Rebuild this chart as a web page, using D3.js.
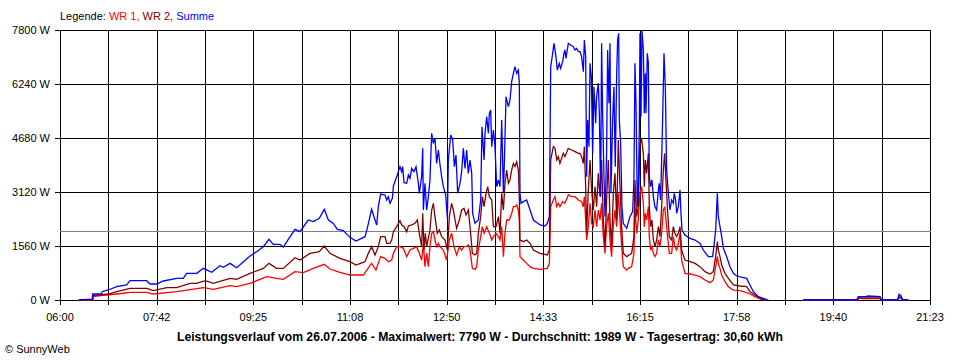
<!DOCTYPE html>
<html>
<head>
<meta charset="utf-8">
<script src="https://cdn.jsdelivr.net/npm/d3@7"></script>
<style>
  html, body { margin: 0; padding: 0; background: #fff; }
  svg { display: block; }
  text { font-family: "Liberation Sans", Arial, sans-serif; font-size: 11px; fill: #000; }
</style>
</head>
<body>
<svg id="chart" width="960" height="360"></svg>
<script>
// ---- data (time in minutes since midnight, power in W) ----
const yTickValues = [0, 1560, 3120, 4680, 6240, 7800];
const yTickLabels = ["0 W", "1560 W", "3120 W", "4680 W", "6240 W", "7800 W"];
const xTickLabels = ["06:00", "07:42", "09:25", "11:08", "12:50", "14:33", "16:15", "17:58", "19:40", "21:23"];
const timeStart = 360, timeEnd = 1283;
const average = 1989;
const legendItems = ["WR 1", "WR 2", "Summe"];
const titleText = "Leistungsverlauf vom 26.07.2006 - Maximalwert: 7790 W - Durchschnitt: 1989 W - Tagesertrag: 30,60 kWh";

const summe = [[380,0],[394.3,28],[394.7,173],[404.2,173],[404.6,240],[411.3,289],[420.1,385],[430.7,433],[434.3,558],[452,558],[455.5,462],[462.6,462],[469.6,549],[483.8,626],[490.8,626],[494.4,770],[505,770],[512.1,915],[520.9,799],[529.7,991],[533.3,943],[540.4,1059],[547.4,934],[561.6,1271],[568.6,1396],[575.7,1540],[581.7,1752],[586.3,1608],[593.4,1608],[596.9,1531],[602.2,1752],[609.3,2041],[614.6,1974],[623.4,2311],[628.8,2263],[635.1,2359],[640.4,2619],[644.7,2311],[650,2214],[654.2,2041],[660.6,2003],[667.6,1810],[674,1704],[683.6,1829],[686,2070],[690.6,2619],[694.2,2311],[696,2167],[697.7,2696],[700.2,3062],[704.8,3033],[706.6,2889],[708.3,2985],[710.1,2793],[712.6,2937],[713.7,3293],[717.2,3563],[720.7,3852],[722.5,3708],[723.5,3852],[725,3390],[727.8,3371],[729.6,3611],[731.3,3515],[733.1,3804],[735.6,3708],[737.7,3852],[740.2,3371],[741.2,3082],[743.7,3563],[744.8,4382],[745.5,2600],[747.2,3371],[749,2600],[750.8,2985],[752.5,3467],[754.3,4815],[756.1,4526],[757.8,4671],[759.6,3948],[761.4,4334],[763.2,3900],[764.9,3563],[766.7,3274],[769.2,3033],[771,2359],[772,4045],[774.5,4767],[776.6,4622],[778.4,3852],[780.1,4189],[781.9,3082],[784.4,3371],[786.1,3708],[787.9,4382],[789.7,3804],[791.4,4334],[793.2,3659],[795,4045],[796.8,3659],[797.8,2504],[800.3,2215],[803.8,2311],[806.3,2889],[807.7,5007],[809.9,4045],[810.9,4815],[812.7,5296],[814.5,4815],[815.5,5393],[816.9,5489],[818,4430],[819.8,4911],[821.5,4430],[823.3,3274],[825.1,3467],[826.8,3274],[828.6,5200],[830.4,3082],[831.4,3948],[833.2,5874],[835.7,5585],[837.4,5778],[839.2,6307],[841,6548],[842.7,6741],[844.5,6548],[846.3,6644],[847.3,6259],[848,3082],[849.1,2793],[851.6,2841],[855.1,2889],[858.7,2600],[862.2,2311],[869.3,2167],[874.6,2137],[877,2215],[879.2,2407],[880.6,6741],[882.7,7126],[884.1,7415],[886.2,7030],[887.6,6644],[889.7,6837],[891.1,6693],[893.3,6885],[894.7,7126],[895.7,7222],[896.8,6982],[899.3,7415],[901.8,7367],[904.6,7319],[906.4,7222],[908.1,7270],[909.9,7174],[911.7,7174],[913.4,7030],[915.2,6596],[916.3,7511],[917.7,7030],[918.7,3563],[919.8,5200],[921.2,4430],[922.3,6837],[923.7,6452],[925.1,4237],[926.5,6163],[928.3,5104],[929.3,5874],[931.1,6259],[932.2,5393],[933.6,2985],[934.6,7415],[935.7,5393],[937.1,3563],[938.2,2407],[939.9,4237],[941,7222],[942.4,5681],[943.5,7415],[944.5,3082],[946.3,5200],[947.7,6163],[949.1,3852],[950.6,6548],[951.6,7511],[952.7,7704],[953.4,5200],[954.8,4526],[956.2,2696],[957.6,2215],[961.2,2070],[964.7,2407],[967.5,2552],[968.9,3467],[970,6837],[971.1,5681],[972.5,2696],[973.5,3082],[974.6,4911],[975.3,7704],[976.4,5296],[977.4,7790],[978.9,7222],[979.9,5393],[981,6548],[981.7,5393],[983.1,7126],[984.2,6837],[985.2,3563],[986.6,3274],[988,3467],[989.5,2985],[991.2,2696],[993,2600],[994.8,3178],[995.8,3370],[997.2,2889],[998.3,4045],[999.4,5296],[1000.8,7126],[1002.2,6163],[1003.6,3756],[1005.4,3082],[1007.1,2600],[1008.9,2889],[1010.7,2793],[1011.7,3082],[1013.2,2889],[1014.2,2504],[1016,2696],[1017.8,3178],[1018.8,2504],[1019.9,2022],[1023,1878],[1028.4,1781],[1033.7,1733],[1039,1637],[1042.5,1444],[1047.8,1251],[1052.4,1251],[1053.9,1588],[1055.6,2022],[1057.4,3081],[1058.4,2407],[1060.2,2118],[1062,1829],[1063.8,1492],[1067.3,1251],[1070.8,962],[1074.4,770],[1077.9,693],[1088.5,625],[1092,433],[1095.6,240],[1100.9,96],[1106.2,48],[1111.5,0],[1130,null],[1148.6,0],[1205.2,0],[1207,96],[1215,96],[1217,115],[1230,96],[1231.7,0],[1248.7,0],[1250.1,164],[1252.2,125],[1254,0],[1260,0]];

const wr2 = [[380,0],[394.3,0],[394.7,125],[411.3,173],[420.1,240],[434.3,337],[452,337],[459,269],[473.2,356],[483.8,356],[497.9,481],[505,481],[512.1,548],[515.6,548],[522.7,481],[540.4,625],[547.4,597],[561.6,770],[575.7,914],[581.7,1059],[589.8,914],[596.9,914],[609.3,1223],[614.6,1155],[625.2,1348],[635.1,1396],[640.4,1560],[646.4,1348],[657,1203],[667.6,1107],[674,1011],[683.6,1107],[687.1,1348],[690.6,1540],[694.2,1300],[697.7,1541],[700.2,1830],[704.8,1830],[706.6,1637],[710.1,1637],[711.9,1733],[713.7,1974],[717.2,2119],[720.7,2292],[722.5,2167],[725,2119],[727.8,1974],[729.6,2138],[733.1,2167],[736.6,2215],[739.1,2311],[741.2,1926],[743.7,1541],[744.8,2504],[746.2,1444],[747.6,1926],[749,1541],[752.5,2022],[754.3,2600],[756.1,2793],[757.8,2408],[760.3,1926],[762.5,2022],[764.9,1830],[768.5,1733],[771,1444],[773.1,2408],[775.5,2793],[777.3,2600],[779.1,2311],[780.8,2070],[783.7,2311],[786.1,2600],[788.6,2648],[790.7,2456],[793.2,2600],[795,2118],[797.5,1348],[800.3,1300],[802.1,1348],[803.8,1926],[806.3,2407],[808.1,2985],[809.9,2696],[812,3082],[813.8,3274],[815.5,2985],[818,2889],[819.8,2118],[822.6,2118],[825.1,2407],[826.8,1926],[828.6,3082],[830.4,2600],[832.1,3370],[833.9,3756],[835.7,3370],[837.4,3467],[839.2,3756],[841,3948],[842.7,3852],[844.5,3996],[846.3,3756],[847.3,2985],[848,1733],[851.6,1685],[855.1,1733],[858.7,1637],[862.2,1444],[869.3,1348],[877,1300],[879.2,1444],[880.6,4045],[883.4,4430],[885.2,4382],[887,4045],[888.7,4141],[890.4,3948],[892.2,4093],[894,4237],[895.7,4141],[899.3,4382],[902.8,4333],[906.4,4285],[909.9,4237],[911.7,4237],[913.4,4141],[915.2,3948],[916.3,4430],[917.7,3274],[918.7,1926],[920.5,3178],[922.3,4045],[924,3178],[925.8,2600],[927.6,3274],[929.3,2696],[931.1,3659],[932.9,2985],[934.6,4045],[936.4,2311],[938.2,1541],[939.9,2889],[941.7,4045],[943.5,2311],[945.2,1541],[947,3082],[948.8,3659],[950.6,2311],[952.3,4622],[954.1,3274],[955.9,2118],[957.6,1348],[961.2,1252],[966.5,1348],[968.9,1830],[970,3467],[971.8,2407],[973.5,2696],[975.3,4526],[977.1,4622],[978.9,4237],[979.9,3274],[981,4045],[982.4,3659],[984.2,4237],[985.2,2696],[986.6,2118],[988,2311],[989.5,1733],[991.2,1541],[993,1733],[994.8,2118],[996.5,1830],[998.3,2696],[1000.1,3756],[1001.5,4237],[1002.9,3467],[1004.3,2696],[1006.4,1830],[1008.9,1733],[1010.7,2118],[1012.4,1926],[1014.2,1830],[1016,1926],[1017.8,2118],[1019.5,1444],[1023,1155],[1028.4,1107],[1033.7,1059],[1039,963],[1044.3,818],[1049.6,751],[1053.1,818],[1055.6,1251],[1057.4,1685],[1058.4,1444],[1060.2,1251],[1062,1011],[1065.5,770],[1069.1,625],[1074.4,433],[1081.4,404],[1088.5,385],[1092,240],[1097.3,144],[1102.7,48],[1108,0],[1130,null],[1148.6,0],[1205.2,0],[1207,60],[1230,60],[1231.7,0],[1248.7,0],[1250.1,100],[1252.2,80],[1254,0],[1260,0]];

const wr1 = [[380,0],[395,0],[395.4,96],[403.2,125],[420.1,173],[434.3,221],[452,221],[459,173],[483.8,240],[512.1,356],[522.7,308],[540.4,414],[547.4,385],[561.6,481],[579.2,674],[589.8,625],[596.9,597],[609.3,818],[618.1,789],[628.8,914],[640.4,1030],[646.4,895],[657,799],[667.6,722],[681.8,722],[690.6,1059],[695.2,866],[699.5,1203],[700.2,1252],[704.8,1204],[708.4,1107],[711.9,1156],[713.7,1348],[717.2,1541],[720.7,1541],[724.3,1493],[727.8,1252],[731.3,1444],[734.9,1493],[738.4,1541],[741.2,1348],[743.7,1156],[745.5,1637],[747.2,963],[749,1348],[750.8,963],[752.5,1541],[754.3,1926],[756.1,1974],[757.8,1733],[759.6,1541],[761.4,1637],[763.2,1541],[766.7,1444],[770.2,1156],[773.1,1733],[775.5,1926],[778,1541],[780.8,1300],[783.7,1541],[786.1,1444],[788.6,1541],[790.7,1541],[793.2,1589],[795,1444],[797.5,915],[800.3,886],[802.1,963],[803.8,1444],[806.3,1830],[808.1,2118],[809.9,1926],[812.7,2118],[815.5,1926],[818,1733],[819.8,1830],[822.6,1926],[825.1,1830],[826.8,1733],[828.6,2118],[830.4,1252],[832.1,1926],[833.9,2311],[836.7,2311],[839.2,2504],[841,2696],[842.7,2696],[844.5,2744],[846.3,2600],[847.3,2311],[848,1252],[851.6,1156],[855.1,1059],[858.7,963],[862.2,915],[869.3,886],[877,915],[879.2,1059],[880.6,2696],[883.4,2889],[885.2,2985],[887,2696],[888.7,2793],[890.4,2696],[893.3,2841],[895.7,2793],[899.3,3033],[902.8,2985],[906.4,2985],[909.9,2889],[913.4,2841],[915.2,2696],[916.3,2985],[917.7,2311],[918.7,1733],[920.5,2118],[922.3,2793],[924,2215],[925.8,2118],[927.6,2600],[929.3,2118],[931.1,2600],[932.9,2311],[934.6,2793],[936.4,1830],[938.2,1348],[939.9,2118],[941.7,2504],[943.5,1733],[945.2,1252],[947,2118],[948.8,2600],[950.6,2118],[952.3,3082],[954.1,2311],[955.9,1541],[957.6,963],[961.2,867],[962.9,915],[966.5,963],[968.9,1348],[970,2696],[971.8,1926],[973.5,2311],[975.3,3082],[977.1,3274],[978.9,2793],[979.9,2118],[981,2504],[982.4,2311],[984.2,2696],[985.2,1830],[986.6,1444],[988,1541],[989.5,1348],[991.2,1252],[993,1348],[994.8,1733],[996.5,1541],[998.3,1926],[1000.1,2600],[1001.5,2696],[1002.9,2311],[1004.3,1926],[1006.4,1348],[1008.9,1348],[1010.7,1830],[1012.4,1541],[1014.2,1444],[1016,1637],[1017.8,1926],[1019.5,1155],[1023,770],[1028.4,751],[1033.7,722],[1039,674],[1044.3,578],[1049.6,500],[1053.1,578],[1055.6,963],[1057.4,1251],[1058.8,1011],[1060.2,915],[1062,722],[1065.5,529],[1069.1,385],[1074.4,288],[1081.4,269],[1088.5,211],[1092,173],[1097.3,96],[1102.7,29],[1106.2,0],[1130,null],[1148.6,0],[1205.2,0],[1207,40],[1230,40],[1231.7,0],[1248.7,0],[1250.1,70],[1252.2,50],[1254,0],[1260,0]];

const seriesColors = ["#ff0000", "#800000", "#0000ff"];

// ---- drawing ----
const svg = d3.select("#chart");
const plotLeft = 60, plotRight = 930, plotTop = 30, plotBottom = 300;

const x = d3.scaleLinear().domain([timeStart, timeEnd]).range([plotLeft, plotRight]);
const y = d3.scaleLinear().domain([0, 7800]).range([plotBottom, plotTop]);

svg.append("rect").attr("width", 960).attr("height", 360).attr("fill", "#fff");

const crisp = v => Math.round(v) + 0.5;

// vertical grid lines (every half label step) with ticks below the axis
const gridTimes = d3.range(19).map(k => timeStart + k * (timeEnd - timeStart) / 18);
svg.append("g").selectAll("line").data(gridTimes).join("line")
  .attr("x1", d => crisp(x(d))).attr("x2", d => crisp(x(d)))
  .attr("y1", plotTop).attr("y2", plotBottom + 5)
  .attr("stroke", "#000").attr("stroke-width", 1).attr("shape-rendering", "crispEdges");

// horizontal grid lines with ticks left of the axis
svg.append("g").selectAll("line").data(yTickValues).join("line")
  .attr("x1", plotLeft - 5).attr("x2", plotRight + 1)
  .attr("y1", d => crisp(y(d))).attr("y2", d => crisp(y(d)))
  .attr("stroke", "#000").attr("stroke-width", 1).attr("shape-rendering", "crispEdges");

// y labels
svg.append("g").selectAll("text").data(yTickValues).join("text")
  .attr("x", plotLeft - 10).attr("y", d => y(d)).attr("dy", "0.35em")
  .attr("text-anchor", "end").text((d, i) => yTickLabels[i]);

// x labels
const labelTimes = d3.range(10).map(k => timeStart + k * (timeEnd - timeStart) / 9);
svg.append("g").selectAll("text").data(labelTimes).join("text")
  .attr("x", d => x(d)).attr("y", 321)
  .attr("text-anchor", "middle").text((d, i) => xTickLabels[i]);

// average line
svg.append("line")
  .attr("x1", plotLeft).attr("x2", plotRight + 1)
  .attr("y1", crisp(y(average))).attr("y2", crisp(y(average)))
  .attr("stroke", "#808080").attr("stroke-width", 1).attr("shape-rendering", "crispEdges");

// series
const line = d3.line()
  .defined(d => d[1] !== null)
  .x(d => x(d[0])).y(d => y(d[1]));

[wr1, wr2, summe].forEach((s, i) => {
  svg.append("path").datum(s)
    .attr("d", line)
    .attr("fill", "none")
    .attr("stroke", seriesColors[i])
    .attr("stroke-width", 1.3)
    .attr("stroke-linejoin", "miter");
});

// legend
const leg = svg.append("text").attr("x", 60).attr("y", 20);
leg.append("tspan").text("Legende: ");
legendItems.forEach((name, i) => {
  leg.append("tspan").style("fill", seriesColors[i])
    .text(name + (i < legendItems.length - 1 ? ", " : ""));
});

// title
svg.append("text").attr("x", 480).attr("y", 341)
  .attr("text-anchor", "middle")
  .style("font-weight", "bold").style("font-size", "12px")
  .attr("textLength", 606).attr("lengthAdjust", "spacingAndGlyphs")
  .text(titleText);

// copyright
svg.append("text").attr("x", 5).attr("y", 353).text("© SunnyWeb");
</script>
</body>
</html>
